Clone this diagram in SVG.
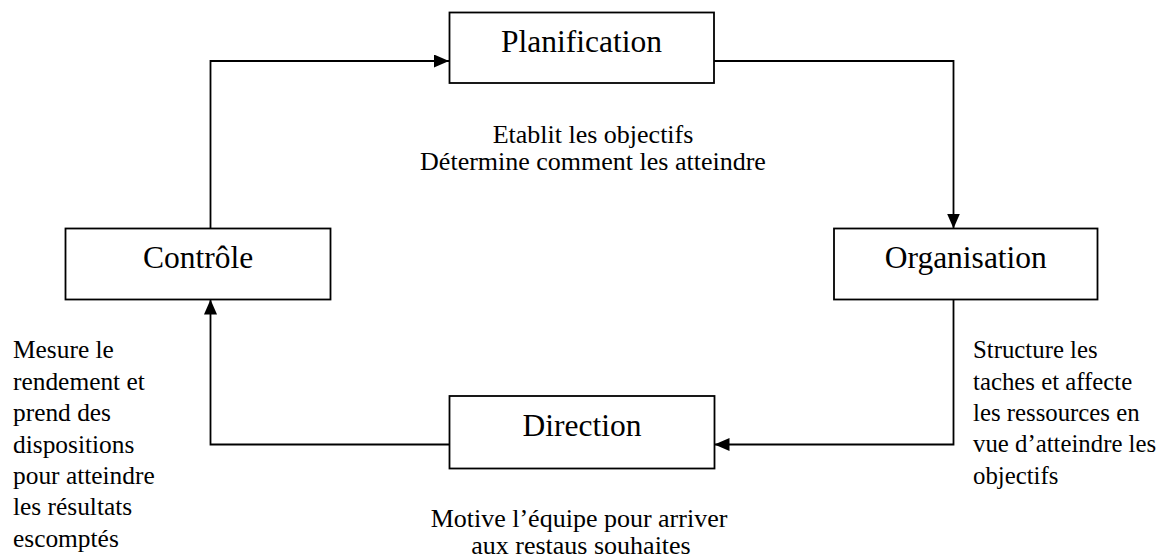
<svg xmlns="http://www.w3.org/2000/svg" width="1170" height="559" viewBox="0 0 1170 559">
<defs>
<marker id="arrow" markerUnits="userSpaceOnUse" markerWidth="16" markerHeight="14" refX="15" refY="6.5" orient="auto">
<path d="M0,0 L15,6.5 L0,13 Z" fill="#000"/>
</marker>
</defs>
<style>
.box{fill:#fff;stroke:#000;stroke-width:1.8}
.lbl{font-size:31.5px;fill:#000;text-anchor:middle}
.desc{font-size:26px;fill:#000}
.left{font-size:25.4px}
.right{font-size:24.8px}
.mid{text-anchor:middle}
.conn{fill:none;stroke:#000;stroke-width:1.8}
</style>
<rect width="1170" height="559" fill="#fff"/>
<g id="connectors">
<path class="conn" d="M210.5,228.5 V61 H449" marker-end="url(#arrow)"/>
<path class="conn" d="M714,61 H953.5 V228.5" marker-end="url(#arrow)"/>
<path class="conn" d="M953.5,299.5 V444.5 H714.5" marker-end="url(#arrow)"/>
<path class="conn" d="M449.5,444.5 H210.5 V299.5" marker-end="url(#arrow)"/>
</g>
<g font-family="'Liberation Serif', 'DejaVu Serif', serif">
<g id="planification">
<rect class="box" x="449.5" y="12.5" width="264.5" height="70.5"/>
<text class="lbl" x="581.5" y="52">Planification</text>
</g>
<g id="organisation">
<rect class="box" x="834" y="228.5" width="263.5" height="71"/>
<text class="lbl" x="965.8" y="268.3">Organisation</text>
</g>
<g id="controle">
<rect class="box" x="65.5" y="228.5" width="265" height="71"/>
<text class="lbl" x="198" y="268.3">Contrôle</text>
</g>
<g id="direction">
<rect class="box" x="449.5" y="396" width="265" height="72.5"/>
<text class="lbl" x="582" y="435.7">Direction</text>
</g>
<g id="texts">
<text class="desc mid" x="593" y="143.3">Etablit les objectifs</text>
<text class="desc mid" x="593" y="169.5">Détermine comment les atteindre</text>
<text class="desc mid" x="579" y="527">Motive l’équipe pour arriver</text>
<text class="desc mid" x="581" y="554">aux restaus souhaites</text>
<text class="desc left" x="13" y="358.3">Mesure le</text>
<text class="desc left" x="13" y="389.8">rendement et</text>
<text class="desc left" x="13" y="421.2">prend des</text>
<text class="desc left" x="13" y="452.6">dispositions</text>
<text class="desc left" x="13" y="484">pour atteindre</text>
<text class="desc left" x="13" y="515.4">les résultats</text>
<text class="desc left" x="13" y="546.8">escomptés</text>
<text class="desc right" x="973" y="358.3">Structure les</text>
<text class="desc right" x="973" y="389.6">taches et affecte</text>
<text class="desc right" x="973" y="420.9">les ressources en</text>
<text class="desc right" x="973" y="452.2">vue d’atteindre les</text>
<text class="desc right" x="973" y="483.5">objectifs</text>
</g>
</g>
</svg>
